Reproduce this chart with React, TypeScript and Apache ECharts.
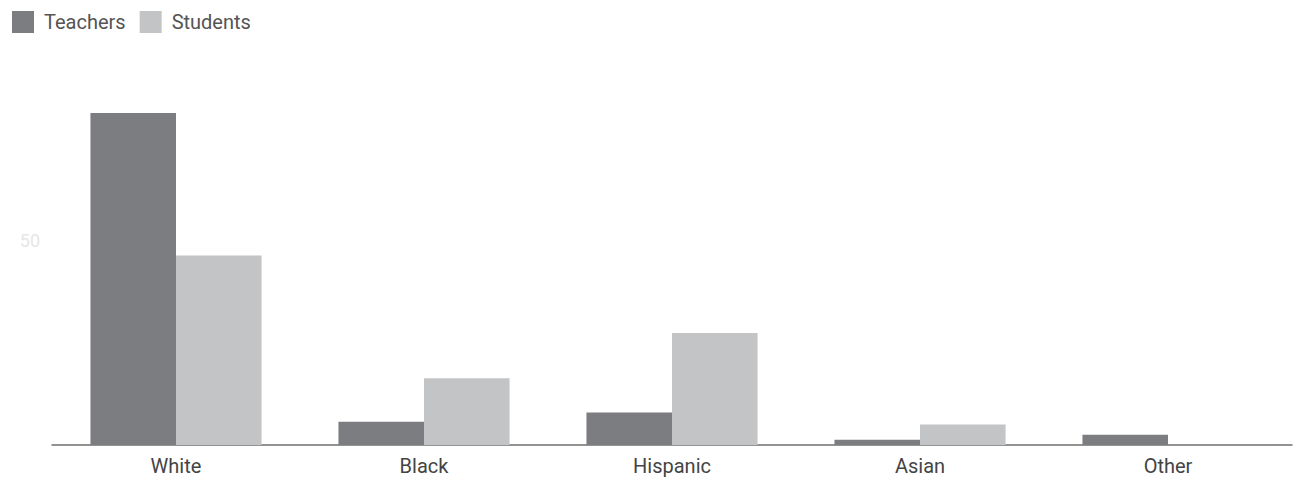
import React, { useEffect, useRef } from "react";
import * as echarts from "echarts";

const categories = ["White", "Black", "Hispanic", "Asian", "Other"];
const teachers = [81, 5.7, 7.9, 1.3, 2.5];
const students = [46.2, 16.3, 27.3, 5.0, 0];
const yTicks = [0, 50, 100];

export default function App() {
  const ref = useRef<HTMLDivElement>(null);
  useEffect(() => {
    document.body.style.margin = "0";
    if (!ref.current) return;
    const chart = echarts.init(ref.current, undefined, { renderer: "svg" });
    chart.setOption({
      animation: false,
      backgroundColor: "#ffffff",
      textStyle: { fontFamily: "Roboto" },
      legend: {
        left: 7,
        top: 6,
        itemWidth: 22,
        itemHeight: 22,
        itemGap: 14,
        icon: "rect",
        textStyle: { fontSize: 20, color: "#555", padding: [0, 0, 0, 5], fontFamily: "Roboto" },
        data: ["Teachers", "Students"],
      },
      grid: { left: 52, right: 16, top: 35, bottom: 36, containLabel: false },
      xAxis: {
        type: "category",
        data: categories,
        axisLine: { lineStyle: { color: "#6f6f6f", width: 1.5 } },
        axisTick: { show: false },
        axisLabel: { fontSize: 20, color: "#444", margin: 11, fontFamily: "Roboto" },
      },
      yAxis: {
        type: "value",
        min: yTicks[0],
        max: yTicks[2],
        interval: 50,
        splitLine: { show: false },
        axisLine: { show: false },
        axisTick: { show: false },
        axisLabel: {
          showMinLabel: false,
          showMaxLabel: false,
          fontSize: 18,
          color: "#e6e6e6",
          margin: 12,
          fontFamily: "Roboto",
        },
      },
      series: [
        {
          name: "Teachers",
          type: "bar",
          data: teachers,
          barGap: "0%",
          barCategoryGap: "31%",
          itemStyle: { color: "#7c7d80" },
        },
        {
          name: "Students",
          type: "bar",
          data: students,
          itemStyle: { color: "#c3c4c6" },
        },
      ],
    });
    return () => chart.dispose();
  }, []);
  return <div ref={ref} style={{ width: 1308, height: 481 }} />;
}
